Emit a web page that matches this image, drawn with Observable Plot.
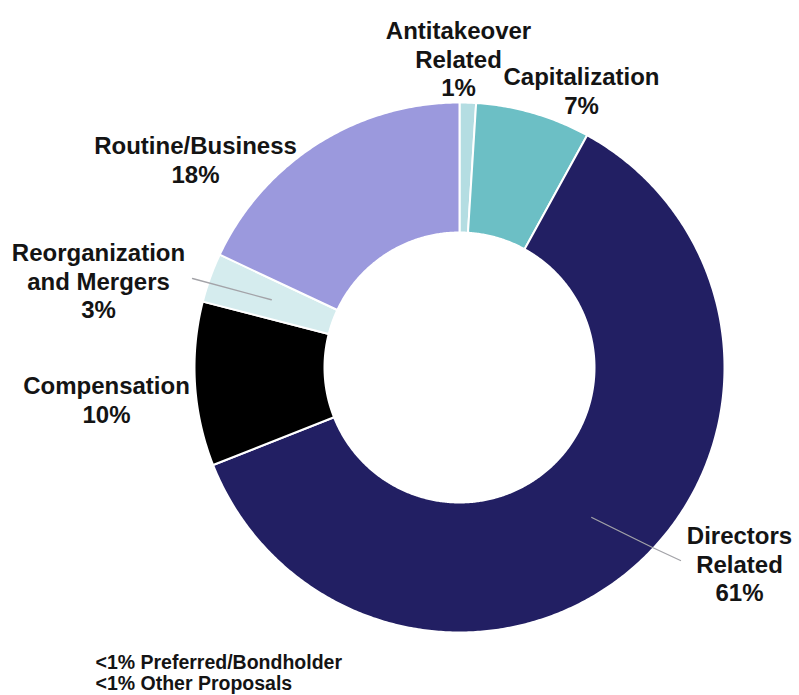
<!DOCTYPE html>
<html>
<head>
<meta charset="utf-8">
<script src="https://cdn.jsdelivr.net/npm/d3@7"></script>
<script src="https://cdn.jsdelivr.net/npm/@observablehq/plot@0.6"></script>
<style>
  html, body { margin: 0; padding: 0; background: #ffffff; }
  #chart svg { display: block; }
</style>
</head>
<body>
<div id="chart"></div>
<script>
// ---- Data ----
const categories = ["Antitakeover Related", "Capitalization", "Directors Related", "Compensation", "Reorganization and Mergers", "Routine/Business"];
const labelNames = ["Antitakeover\nRelated", "Capitalization", "Directors\nRelated", "Compensation", "Reorganization\nand Mergers", "Routine/Business"];
const shares = [1, 7, 61, 10, 3, 18];
const colors = ["#b4dde2", "#6cbfc5", "#221f63", "#000000", "#d5ecee", "#9b99dd"];
const notes = ["<1% Preferred/Bondholder", "<1% Other Proposals"];

// ---- Layout (pixel units relative to donut centre, y up) ----
const W = 799, H = 695;
const CX = 459, CY = 367;
const R_OUT = 265, R_IN = 135;
const labelAt = [[-1, 309], [122, 277], [280, -196], [-353, -32], [-361, 87], [-264, 208]];
const leaderEnds = { "Reorganization and Mergers": [[-267, 89]], "Directors Related": [[193, -180], [221, -193]] };
const noteX = 95 - CX, noteBaselines = [664, 685];

// ---- Geometry from data ----
const arcs = d3.pie().sort(null).value(d => d)(shares);
const pt = (r, a) => ({ x: r * Math.sin(a), y: r * Math.cos(a) });

const slicePts = [];
arcs.forEach((a, i) => {
  const cat = categories[i];
  const n = Math.max(2, Math.ceil((a.endAngle - a.startAngle) / (Math.PI / 360)));
  const ring = [];
  for (let k = 0; k <= n; k++) ring.push(pt(R_OUT, a.startAngle + (a.endAngle - a.startAngle) * k / n));
  for (let k = n; k >= 0; k--) ring.push(pt(R_IN, a.startAngle + (a.endAngle - a.startAngle) * k / n));
  ring.push(ring[0]);
  ring.forEach(p => slicePts.push({ cat, x: p.x, y: p.y }));
});

const labels = categories.map((c, i) => ({
  cat: c,
  text: labelNames[i] + "\n" + shares[i] + "%",
  x: labelAt[i][0],
  y: labelAt[i][1]
}));

const leaderPts = [];
arcs.forEach((a, i) => {
  const cat = categories[i];
  if (!leaderEnds[cat]) return;
  const mid = (a.startAngle + a.endAngle) / 2;
  const s = pt(200, mid);
  leaderPts.push({ cat, x: s.x, y: s.y });
  leaderEnds[cat].forEach(([x, y]) => leaderPts.push({ cat, x, y }));
});

const noteRows = notes.map((t, i) => ({ text: t, x: noteX, y: CY - noteBaselines[i] }));

const font = "'Liberation Sans', Arial, Helvetica, sans-serif";

const chart = Plot.plot({
  width: W,
  height: H,
  margin: 0,
  style: { fontFamily: font, background: "#ffffff" },
  x: { domain: [-CX, W - CX], axis: null },
  y: { domain: [CY - H, CY], axis: null },
  color: { domain: categories, range: colors },
  marks: [
    Plot.line(slicePts, { x: "x", y: "y", z: "cat", fill: "cat", stroke: "#ffffff", strokeWidth: 2, strokeLinejoin: "round", curve: "linear" }),
    Plot.line(leaderPts, { x: "x", y: "y", z: "cat", stroke: "#a3a3a8", strokeWidth: 1.3 }),
    Plot.text(labels, { x: "x", y: "y", text: "text", fontSize: 24, fontWeight: "bold", lineHeight: 1.17, fill: "#141414", textAnchor: "middle", lineAnchor: "middle" }),
    Plot.text(noteRows, { x: "x", y: "y", text: "text", fontSize: 19.5, fontWeight: "bold", fill: "#141414", textAnchor: "start", lineAnchor: "bottom", dy: 4 })
  ]
});

document.getElementById("chart").appendChild(chart);
</script>
</body>
</html>
